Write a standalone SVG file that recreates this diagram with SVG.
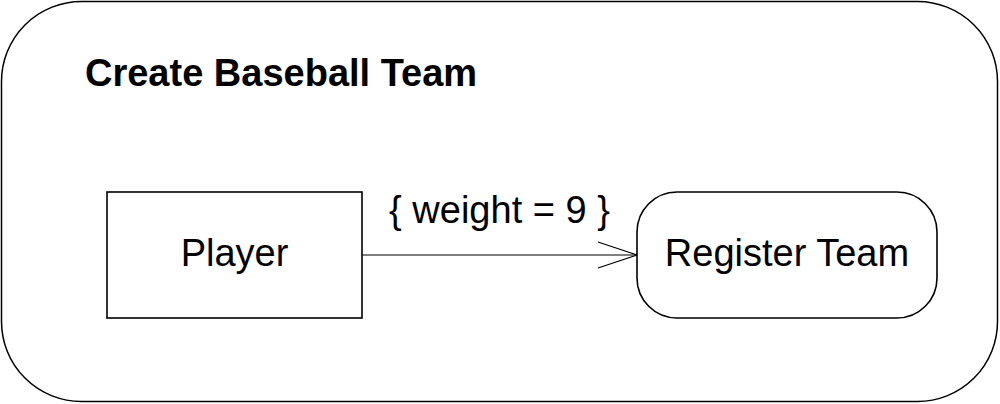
<svg xmlns="http://www.w3.org/2000/svg" width="1000" height="404" viewBox="0 0 1000 404">
<style>
.t{font-family:"Liberation Sans",Arial,sans-serif;font-size:38px;fill:#000}
.b{font-weight:bold}
.n{fill:#fff;stroke:#000;stroke-width:1.6}
.c{fill:none;stroke:#000;stroke-width:1.2}
</style>
<rect width="1000" height="404" fill="#fff"/>
<g id="frame">
<rect x="1.5" y="1.5" width="996" height="400" rx="80" ry="80" fill="#fff" stroke="#000" stroke-width="1.5"/>
<text class="t b" x="85" y="86">Create Baseball Team</text>
</g>
<g id="connectors">
<line class="c" x1="362" y1="255" x2="637" y2="255"/>
<polyline class="c" points="598,242 637,255 598,268"/>
<text class="t" x="499.5" y="223" text-anchor="middle">{ weight = 9 }</text>
</g>
<g id="player">
<rect class="n" x="107" y="192" width="255" height="126"/>
<text class="t" x="234.5" y="266" text-anchor="middle">Player</text>
</g>
<g id="register-team">
<rect class="n" x="637" y="192" width="300" height="126" rx="40" ry="40"/>
<text class="t" x="787" y="266" text-anchor="middle">Register Team</text>
</g>
</svg>
